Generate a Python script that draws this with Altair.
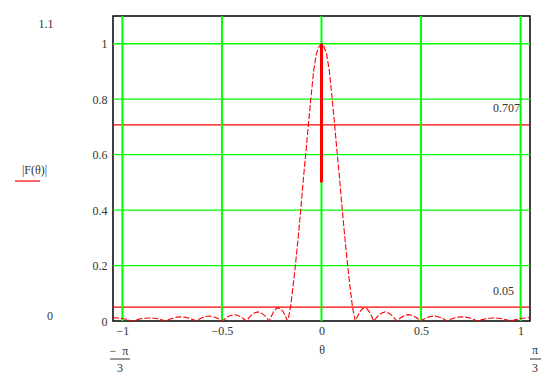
import math
import altair as alt
import pandas as pd

# ---- data ----
theta = [
    -1.047, -1.025, -1.0, -0.975, -0.95, -0.929, -0.908, -0.887, -0.866, -0.845, -0.824, -0.803,
    -0.782, -0.763, -0.744, -0.725, -0.706, -0.687, -0.668, -0.649, -0.63, -0.614, -0.597, -0.581,
    -0.564, -0.548, -0.531, -0.515, -0.498, -0.483, -0.468, -0.453, -0.438, -0.423, -0.408, -0.393,
    -0.378, -0.363, -0.349, -0.334, -0.320, -0.306, -0.291, -0.277, -0.263, -0.251, -0.240, -0.228,
    -0.216, -0.205, -0.193, -0.182, -0.17, -0.163, -0.155, -0.143, -0.13, -0.116, -0.102, -0.09,
    -0.079, -0.066, -0.053, -0.039, -0.025, -0.012,
    0.0,
    0.012, 0.025, 0.039, 0.053, 0.066, 0.079, 0.09, 0.102, 0.116, 0.13, 0.143, 0.155, 0.163, 0.17,
    0.182, 0.193, 0.205, 0.216, 0.228, 0.240, 0.251, 0.263, 0.277, 0.291, 0.306, 0.320, 0.334,
    0.349, 0.363, 0.378, 0.393, 0.408, 0.423, 0.438, 0.453, 0.468, 0.483, 0.498, 0.515, 0.531,
    0.548, 0.564, 0.581, 0.597, 0.614, 0.63, 0.649, 0.668, 0.687, 0.706, 0.725, 0.744, 0.763,
    0.782, 0.803, 0.824, 0.845, 0.866, 0.887, 0.908, 0.929, 0.95, 0.975, 1.0, 1.025, 1.047,
]
F_abs = [
    0.012, 0.011, 0.009, 0.005, 0.0, 0.004, 0.008, 0.010, 0.011, 0.010, 0.008, 0.004,
    0.0, 0.006, 0.011, 0.014, 0.015, 0.014, 0.011, 0.006, 0.0, 0.007, 0.013, 0.0165,
    0.018, 0.0165, 0.013, 0.007, 0.0, 0.009, 0.016, 0.021, 0.023, 0.021, 0.016, 0.009,
    0.0, 0.013, 0.023, 0.030, 0.033, 0.030, 0.023, 0.013, 0.0, 0.018, 0.034, 0.044,
    0.048, 0.044, 0.034, 0.018, 0.0, 0.022, 0.054, 0.125, 0.208, 0.31, 0.42, 0.52,
    0.603, 0.707, 0.806, 0.905, 0.965, 0.99,
    1.0,
    0.99, 0.965, 0.905, 0.806, 0.707, 0.603, 0.52, 0.42, 0.31, 0.208, 0.125, 0.054, 0.022, 0.0,
    0.018, 0.034, 0.044, 0.048, 0.044, 0.034, 0.018, 0.0, 0.013, 0.023, 0.030, 0.033, 0.030,
    0.023, 0.013, 0.0, 0.009, 0.016, 0.021, 0.023, 0.021, 0.016, 0.009, 0.0, 0.007, 0.013,
    0.0165, 0.018, 0.0165, 0.013, 0.007, 0.0, 0.006, 0.011, 0.014, 0.015, 0.014, 0.011, 0.006,
    0.0, 0.004, 0.008, 0.010, 0.011, 0.010, 0.008, 0.004, 0.0, 0.005, 0.009, 0.011, 0.012,
]
x_ticks = [-1, -0.5, 0, 0.5, 1]
y_ticks = [0, 0.2, 0.4, 0.6, 0.8, 1.0]
y_grid = [0.2, 0.4, 0.6, 0.8, 1.0]
ref_levels = [0.707, 0.05]
marker_theta = [0.0]
marker_lo = [0.5]
marker_hi = [1.0]

curve = pd.DataFrame({"theta": theta, "F": F_abs})
xgrid_df = pd.DataFrame({"theta": x_ticks})
ygrid_df = pd.DataFrame({"F": y_grid})
ref_df = pd.DataFrame({"F": ref_levels})
marker_df = pd.DataFrame({"theta": marker_theta, "F": marker_lo, "F2": marker_hi})

FONT = "Liberation Serif"
TXT = "#333333"
GREEN = "#00ff00"
RED = "#ff0000"

xs = alt.Scale(domain=[-math.pi / 3, math.pi / 3], nice=False, zero=False)
ys = alt.Scale(domain=[0, 1.1], nice=False, zero=False)

x_axis = alt.Axis(
    values=x_ticks,
    grid=False,
    ticks=False,
    domain=False,
    labelExpr="replace(format(datum.value, '~g'), '-', '\u2212')",
    labelFont=FONT,
    labelFontSize=12,
    labelColor=TXT,
    labelPadding=4,
    labelFlush=False,
    title="θ",
    titleFont=FONT,
    titleFontSize=12,
    titleFontWeight="normal",
    titleColor=TXT,
    titleY=28,
    titleBaseline="middle",
)
y_axis = alt.Axis(
    values=y_ticks,
    grid=False,
    ticks=False,
    domain=False,
    format="~g",
    labelFont=FONT,
    labelFontSize=12,
    labelColor=TXT,
    labelPadding=6,
    labelFlush=False,
    title="|F(θ)|",
    titleFont=FONT,
    titleFontSize=12,
    titleFontWeight="normal",
    titleColor=TXT,
    titleAngle=0,
    titleX=-79,
    titleY=153,
    titleAlign="center",
    titleBaseline="middle",
)

X = alt.X("theta:Q", scale=xs, axis=x_axis)
Y = alt.Y("F:Q", scale=ys, axis=y_axis)

ref_lines = alt.Chart(ref_df).mark_rule(color=RED, strokeWidth=1.3).encode(y=Y)
vgrid = alt.Chart(xgrid_df).mark_rule(color=GREEN, strokeWidth=2).encode(x=X)
hgrid = alt.Chart(ygrid_df).mark_rule(color=GREEN, strokeWidth=1.3).encode(y=Y)
marker = alt.Chart(marker_df).mark_rule(color=RED, strokeWidth=3).encode(
    x=X, y=Y, y2="F2:Q"
)
line = alt.Chart(curve).mark_line(
    color=RED, strokeWidth=1.1, strokeDash=[6, 2], clip=True
).encode(x=X, y=Y)


def label(text, x, y, align="center"):
    return alt.Chart(alt.Data(values=[{"t": text}])).mark_text(
        font=FONT, fontSize=12, color=TXT, align=align, baseline="middle"
    ).encode(text="t:N", x=alt.value(x), y=alt.value(y))


def bar(x1, x2, y, color=TXT, w=1):
    return alt.Chart(alt.Data(values=[{"a": 1}])).mark_rule(
        color=color, strokeWidth=w
    ).encode(x=alt.value(x1), x2=alt.value(x2), y=alt.value(y))


annotations = [
    label("1.1", -67, 8),
    label("0", -63, 300),
    label("0.707", 380, 91.5, "left"),
    label("0.05", 380, 275, "left"),
    label("\u2212\u2002π", 6, 335),
    bar(-3, 17, 343),
    label("3", 7, 352),
    label("π", 422, 334),
    bar(417, 428, 343),
    label("3", 422, 352),
    bar(-98, -73, 165, color=RED, w=1.2),
]

chart = alt.layer(ref_lines, vgrid, hgrid, marker, line, *annotations).properties(
    width=417,
    height=305,
    padding={"left": 113, "top": 16, "right": 25, "bottom": 55},
    autosize=alt.AutoSizeParams(type="none"),
    background="white",
).configure_view(stroke="black", strokeWidth=1.5)

chart.save("out.html", embed_options={"renderer": "svg", "actions": False})
